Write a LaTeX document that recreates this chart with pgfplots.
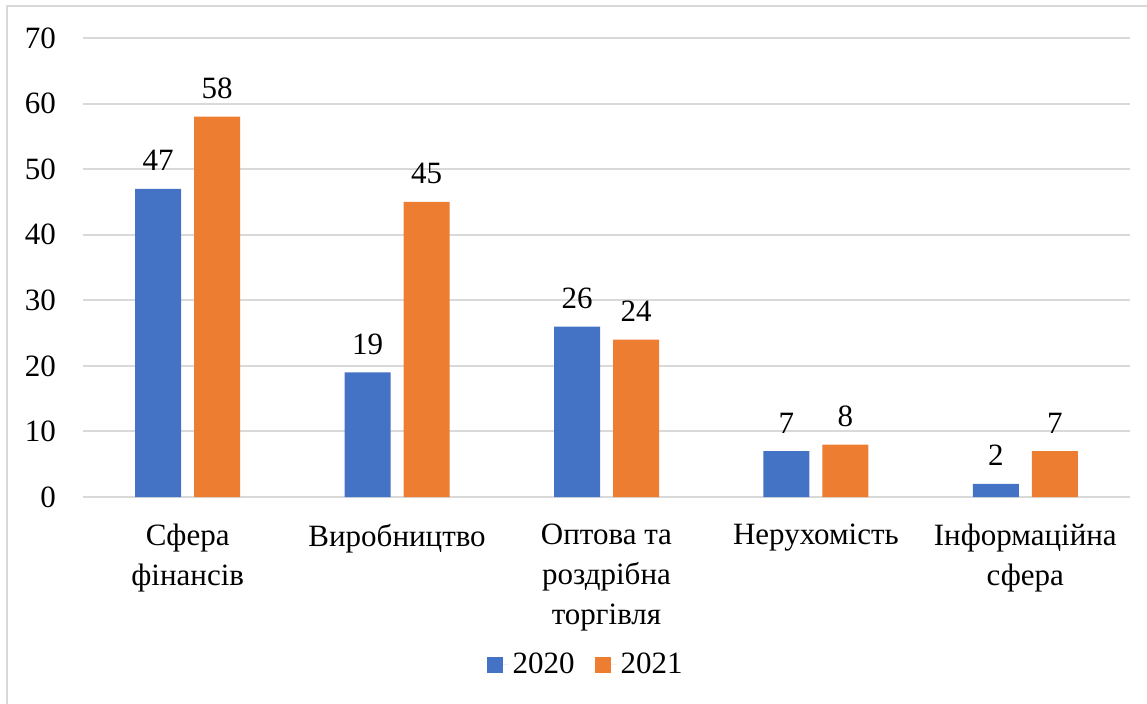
\documentclass[border=0pt]{standalone}
\usepackage{fontspec}
\setmainfont{Liberation Serif}
\usepackage{pgfplots}
\pgfplotsset{compat=1.18}
\definecolor{barblue}{HTML}{4472C4}
\definecolor{barorange}{HTML}{ED7D31}
\definecolor{gridgray}{HTML}{D9D9D9}
\newcommand{\chartfont}{\rmfamily\fontsize{15.5pt}{20pt}\selectfont}

\begin{document}
\begin{tikzpicture}[font=\chartfont]
  % canvas: 1 px of the reference = 0.5pt; axis box lower left at (0,0)
  \useasboundingbox (-41.5pt,-103pt) rectangle (532pt,248.5pt);
  \draw[gridgray, line width=0.8pt] (-38pt,-110pt) -- (-38pt,245.5pt) -- (540pt,245.5pt);
  \begin{axis}[
      at={(0pt,0pt)}, anchor=south west,
      scale only axis,
      width=523.5pt, height=229.5pt,
      ybar=6.5pt, bar width=23pt,
      xmin=-0.5, xmax=4.5,
      ymin=0, ymax=70,
      ytick={0,10,...,70},
      xtick=data,
      xticklabels={{Сфера\\фінансів}, Виробництво, {Оптова та\\роздрібна\\торгівля}, Нерухомість, {Інформаційна\\сфера}},
      xticklabel style={align=center, font=\chartfont, yshift=-10pt},
      yticklabel style={font=\chartfont, xshift=-10pt},
      /pgf/number format/assume math mode=true,
      major tick length=0pt,
      axis line style={draw=none},
      ymajorgrids,
      grid style={gridgray, line width=1pt},
      extra y ticks={0}, extra y tick labels={},
      extra y tick style={grid style={gridgray, line width=1.2pt}},
      nodes near coords,
      nodes near coords style={font=\chartfont, text=black, yshift=5.5pt},
      legend columns=2,
      legend style={at={(0.481,-0.366)}, anchor=center, draw=none,
        font=\chartfont,
        /tikz/every even column/.append style={column sep=8pt}},
      legend image code/.code={\fill[#1] (0pt,-4pt) rectangle (8pt,4pt); \path (0pt,0pt) -- (11pt,0pt);},
    ]
    \addplot[fill=barblue, draw=none] coordinates {(0,47) (1,19) (2,26) (3,7) (4,2)};
    \addplot[fill=barorange, draw=none] coordinates {(0,58) (1,45) (2,24) (3,8) (4,7)};
    \legend{2020, 2021}
  \end{axis}
\end{tikzpicture}
\end{document}
